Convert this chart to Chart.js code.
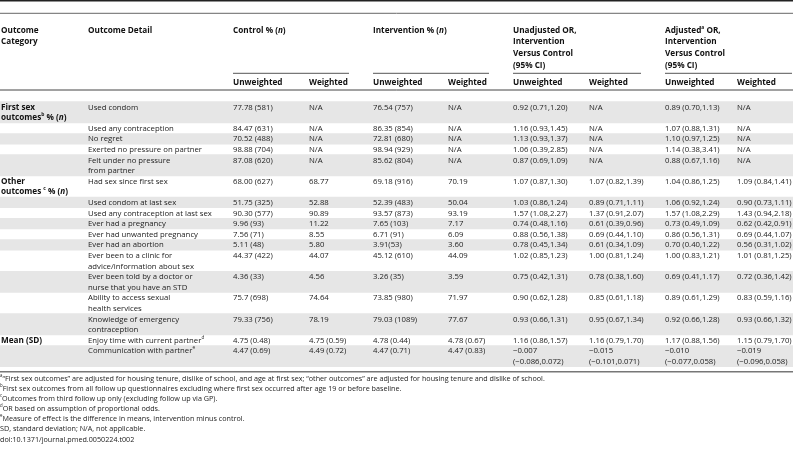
<!DOCTYPE html>
<html>
<head>
<meta charset="utf-8">
<script src="https://cdn.jsdelivr.net/npm/chart.js@4.4.0/dist/chart.umd.min.js"></script>
<style>
html, body { margin: 0; padding: 0; background: #fff; }
</style>
</head>
<body>
<canvas id="Chart" width="793" height="455"></canvas>
<script>
// ---- table data ----
// markup: ^x^ = superscript, *x* = italic, \n = line break
var categories = [
    'First sex\noutcomes^b^ % (*n*)', '', '', '', '',
    'Other\noutcomes ^c^ % (*n*)', '', '', '', '', '', '', '', '', '',
    'Mean (SD)', ''
];
var details = [
    'Used condom',
    'Used any contraception',
    'No regret',
    'Exerted no pressure on partner',
    'Felt under no pressure\nfrom partner',
    'Had sex since first sex',
    'Used condom at last sex',
    'Used any contraception at last sex',
    'Ever had a pregnancy',
    'Ever had unwanted pregnancy',
    'Ever had an abortion',
    'Ever been to a clinic for\nadvice/information about sex',
    'Ever been told by a doctor or\nnurse that you have an STD',
    'Ability to access sexual\nhealth services',
    'Knowledge of emergency\ncontraception',
    'Enjoy time with current partner^d^',
    'Communication with partner^e^'
];
var controlUnweighted = ['77.78 (581)', '84.47 (631)', '70.52 (488)', '98.88 (704)', '87.08 (620)',
    '68.00 (627)', '51.75 (325)', '90.30 (577)', '9.96 (93)', '7.56 (71)', '5.11 (48)',
    '44.37 (422)', '4.36 (33)', '75.7 (698)', '79.33 (756)', '4.75 (0.48)', '4.47 (0.69)'];
var controlWeighted = ['N/A', 'N/A', 'N/A', 'N/A', 'N/A',
    '68.77', '52.88', '90.89', '11.22', '8.55', '5.80',
    '44.07', '4.56', '74.64', '78.19', '4.75 (0.59)', '4.49 (0.72)'];
var interventionUnweighted = ['76.54 (757)', '86.35 (854)', '72.81 (680)', '98.94 (929)', '85.62 (804)',
    '69.18 (916)', '52.39 (483)', '93.57 (873)', '7.65 (103)', '6.71 (91)', '3.91(53)',
    '45.12 (610)', '3.26 (35)', '73.85 (980)', '79.03 (1089)', '4.78 (0.44)', '4.47 (0.71)'];
var interventionWeighted = ['N/A', 'N/A', 'N/A', 'N/A', 'N/A',
    '70.19', '50.04', '93.19', '7.17', '6.09', '3.60',
    '44.09', '3.59', '71.97', '77.67', '4.78 (0.67)', '4.47 (0.83)'];
var unadjustedUnweighted = ['0.92 (0.71,1.20)', '1.16 (0.93,1.45)', '1.13 (0.93,1.37)', '1.06 (0.39,2.85)', '0.87 (0.69,1.09)',
    '1.07 (0.87,1.30)', '1.03 (0.86,1.24)', '1.57 (1.08,2.27)', '0.74 (0.48,1.16)', '0.88 (0.56,1.38)', '0.78 (0.45,1.34)',
    '1.02 (0.85,1.23)', '0.75 (0.42,1.31)', '0.90 (0.62,1.28)', '0.93 (0.66,1.31)', '1.16 (0.86,1.57)',
    '\u22120.007\n(\u22120.086,0.072)'];
var unadjustedWeighted = ['N/A', 'N/A', 'N/A', 'N/A', 'N/A',
    '1.07 (0.82,1.39)', '0.89 (0.71,1.11)', '1.37 (0.91,2.07)', '0.61 (0.39,0.96)', '0.69 (0.44,1.10)', '0.61 (0.34,1.09)',
    '1.00 (0.81,1.24)', '0.78 (0.38,1.60)', '0.85 (0.61,1.18)', '0.95 (0.67,1.34)', '1.16 (0.79,1.70)',
    '\u22120.015\n(\u22120.101,0.071)'];
var adjustedUnweighted = ['0.89 (0.70,1.13)', '1.07 (0.88,1.31)', '1.10 (0.97,1.25)', '1.14 (0.38,3.41)', '0.88 (0.67,1.16)',
    '1.04 (0.86,1.25)', '1.06 (0.92,1.24)', '1.57 (1.08,2.29)', '0.73 (0.49,1.09)', '0.86 (0.56,1.31)', '0.70 (0.40,1.22)',
    '1.00 (0.83,1.21)', '0.69 (0.41,1.17)', '0.89 (0.61,1.29)', '0.92 (0.66,1.28)', '1.17 (0.88,1.56)',
    '\u22120.010\n(\u22120.077,0.058)'];
var adjustedWeighted = ['N/A', 'N/A', 'N/A', 'N/A', 'N/A',
    '1.09 (0.84,1.41)', '0.90 (0.73,1.11)', '1.43 (0.94,2.18)', '0.62 (0.42,0.91)', '0.69 (0.44,1.07)', '0.56 (0.31,1.02)',
    '1.01 (0.81,1.25)', '0.72 (0.36,1.42)', '0.83 (0.59,1.16)', '0.93 (0.66,1.32)', '1.15 (0.79,1.70)',
    '\u22120.019\n(\u22120.096,0.058)'];

var headers = ['Outcome\nCategory', 'Outcome Detail', 'Control % (*n*)', 'Intervention % (*n*)',
    'Unadjusted OR,\nIntervention\nVersus Control\n(95% CI)', 'Adjusted^a^ OR,\nIntervention\nVersus Control\n(95% CI)'];
var subHeaders = ['Unweighted', 'Weighted'];
var footnotes = [
    '^a^\u201cFirst sex outcomes\u201d are adjusted for housing tenure, dislike of school, and age at first sex; \u201cother outcomes\u201d are adjusted for housing tenure and dislike of school.',
    '^b^First sex outcomes from all follow up questionnaires excluding where first sex occurred after age 19 or before baseline.',
    '^c^Outcomes from third follow up only (excluding follow up via GP).',
    '^d^OR based on assumption of proportional odds.',
    '^e^Measure of effect is the difference in means, intervention minus control.',
    'SD, standard deviation; N/A, not applicable.',
    'doi:10.1371/journal.pmed.0050224.t002'
];

// ---- layout ----
var colX = [1, 88, 233, 309, 373, 448, 513, 589, 665, 737];
var groupSpans = [[233, 349], [373, 489], [513, 641], [665, 792]];
var bodyTop = 101.7, lineH = 10.6;
var FONT = '"Open Sans", "Noto Sans", sans-serif';
var valueCols = [controlUnweighted, controlWeighted, interventionUnweighted, interventionWeighted,
    unadjustedUnweighted, unadjustedWeighted, adjustedUnweighted, adjustedWeighted];

function nLines(s) { return s ? s.split('\n').length : 1; }
var rowLines = details.map(function (d, i) {
    var m = Math.max(nLines(d), nLines(categories[i]));
    valueCols.forEach(function (c) { m = Math.max(m, nLines(c[i])); });
    return m;
});
var rowTop = [], acc = 0;
rowLines.forEach(function (n) { rowTop.push(bodyTop + acc * lineH); acc += n; });
var bodyBottom = bodyTop + acc * lineH;

// shaded bands as floating horizontal bars, one dataset per band height
function bands(lines) {
    var pts = [];
    rowLines.forEach(function (n, i) {
        if (i % 2 === 0 && n === lines) pts.push({ x: [0, 793], y: rowTop[i] + n * lineH / 2 });
    });
    return {
        data: pts, backgroundColor: '#e6e6e6', borderWidth: 0,
        barThickness: lines * lineH, grouped: false
    };
}

function parseRich(s) {
    var segs = [], cur = '', sup = false, it = false;
    for (var k = 0; k < s.length; k++) {
        var ch = s[k];
        if (ch === '^' || ch === '*') {
            if (cur) segs.push({ t: cur, sup: sup, it: it });
            cur = '';
            if (ch === '^') sup = !sup; else it = !it;
        } else cur += ch;
    }
    if (cur) segs.push({ t: cur, sup: sup, it: it });
    return segs;
}

function drawRich(ctx, s, x, y, st) {
    parseRich(s).forEach(function (g) {
        var size = g.sup ? st.size * 0.6 : st.size;
        ctx.font = (g.it ? 'italic ' : '') + (st.bold ? 'bold ' : '') + size + 'px ' + FONT;
        var w = ctx.measureText(g.t).width * st.sx;
        ctx.save();
        ctx.translate(x, y + (g.sup ? -st.size * 0.38 : 0));
        ctx.scale(st.sx, 1);
        ctx.fillText(g.t, 0, 0);
        ctx.restore();
        x += w;
    });
}

function drawBlock(ctx, s, x, y, step, st) {
    s.split('\n').forEach(function (line, k) { drawRich(ctx, line, x, y + k * step, st); });
}

var tablePlugin = {
    id: 'tableText',
    afterDatasetsDraw: function (chart) {
        var ctx = chart.ctx, sx = chart.scales.x, sy = chart.scales.y;
        var X = function (v) { return sx.getPixelForValue(v); };
        var Y = function (v) { return sy.getPixelForValue(v); };
        ctx.save();
        ctx.textBaseline = 'middle';
        ctx.textAlign = 'left';

        // rules
        function rule(x0, x1, y, w, c) {
            ctx.strokeStyle = c; ctx.lineWidth = w;
            ctx.beginPath(); ctx.moveTo(X(x0), Y(y)); ctx.lineTo(X(x1), Y(y)); ctx.stroke();
        }
        rule(0, 793, 0.8, 1.6, '#222');
        rule(0, 793, 13.3, 1, '#666');
        groupSpans.forEach(function (g) { rule(g[0], g[1], 73.3, 1, '#555'); });
        rule(0, 793, 90, 1, '#444');
        rule(0, 793, bodyBottom + 5, 1.6, '#777');

        var head = { size: 8.2, bold: true, sx: 1.0 };
        var body = { size: 8, bold: false, sx: 0.97 };
        var note = { size: 8, bold: false, sx: 0.9 };

        // header
        ctx.fillStyle = '#111';
        var hx = [colX[0], colX[1], colX[2], colX[4], colX[6], colX[8]];
        headers.forEach(function (h, i) { drawBlock(ctx, h, X(hx[i]), Y(30.5), 11.6, head); });
        for (var c = 2; c < colX.length; c++) {
            drawRich(ctx, subHeaders[c % 2], X(colX[c]), Y(82.3), head);
        }

        // body
        details.forEach(function (d, i) {
            var ty = Y(rowTop[i] + 5.6);
            ctx.fillStyle = '#111';
            if (categories[i]) drawBlock(ctx, categories[i], X(colX[0]), ty, lineH, head);
            ctx.fillStyle = '#222';
            drawBlock(ctx, d, X(colX[1]), ty, lineH, body);
            valueCols.forEach(function (col, k) {
                drawBlock(ctx, col[i], X(colX[k + 2]), ty, lineH, body);
            });
        });

        // footnotes
        ctx.fillStyle = '#222';
        footnotes.forEach(function (f, i) {
            drawRich(ctx, f, X(0), Y(bodyBottom + 12 + i * 10.1), note);
        });
        ctx.restore();
    }
};

var ctx = document.getElementById('Chart');
var tableChart = new Chart(ctx, {
    type: 'bar',
    data: { datasets: [bands(1), bands(2)] },
    options: {
        indexAxis: 'y',
        responsive: false,
        animation: false,
        events: [],
        layout: { padding: 0 },
        plugins: { legend: { display: false }, tooltip: { enabled: false } },
        scales: {
            x: { type: 'linear', min: 0, max: 793, offset: false, display: false },
            y: { type: 'linear', min: 0, max: 455, reverse: true, offset: false, display: false }
        }
    },
    plugins: [tablePlugin]
});
</script>
</body>
</html>
